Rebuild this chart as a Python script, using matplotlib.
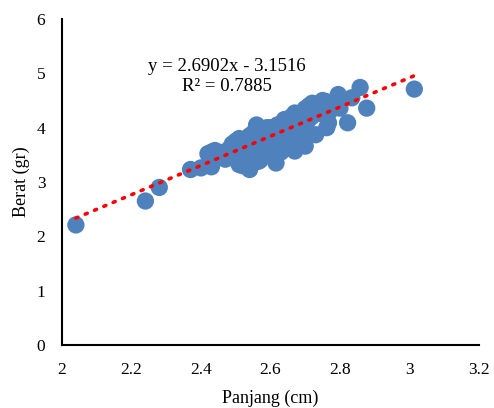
import numpy as np
import matplotlib
matplotlib.use("Agg")
import matplotlib.pyplot as plt

# Panjang (cm) vs Berat (gr)
panjang = [
    2.04, 2.24, 2.28, 2.37, 2.40, 2.43, 2.42, 2.44, 2.47, 2.51, 2.54, 2.565, 2.616,
    2.43, 2.45, 2.46, 2.48, 2.49, 2.50, 2.50, 2.51, 2.52, 2.52, 2.53, 2.53, 2.54,
    2.55, 2.55, 2.56, 2.56, 2.57, 2.57, 2.58, 2.58, 2.59, 2.59, 2.60, 2.60, 2.61,
    2.61, 2.62, 2.62, 2.63, 2.63, 2.64, 2.64, 2.65, 2.65, 2.66, 2.66, 2.67, 2.67,
    2.68, 2.68, 2.69, 2.69, 2.70, 2.70, 2.71, 2.71, 2.72, 2.72, 2.73, 2.73, 2.74,
    2.75, 2.75, 2.76, 2.77, 2.767, 2.762, 2.795, 2.80, 2.822, 2.834, 2.858, 2.877,
    3.014, 2.57, 2.60, 2.64, 2.68, 2.74, 2.78, 2.55, 2.62, 2.66, 2.70, 2.58,
]
berat = [
    2.21, 2.65, 2.90, 3.23, 3.26, 3.28, 3.52, 3.58, 3.42, 3.32, 3.23, 3.38, 3.35,
    3.55, 3.55, 3.50, 3.60, 3.70, 3.75, 3.55, 3.80, 3.65, 3.30, 3.75, 3.50, 3.85,
    3.60, 3.90, 4.05, 3.45, 3.75, 3.40, 3.95, 3.55, 4.00, 3.70, 3.85, 3.60, 3.90,
    3.50, 4.05, 3.70, 3.95, 3.55, 4.15, 3.80, 4.10, 3.65, 4.20, 3.90, 4.27, 3.57,
    4.05, 3.75, 4.20, 3.80, 4.35, 3.66, 4.40, 4.15, 4.45, 4.21, 3.87, 4.35, 4.45,
    4.50, 4.25, 4.48, 4.30, 4.09, 4.00, 4.61, 4.36, 4.09, 4.55, 4.74, 4.36,
    4.71, 3.95, 4.00, 3.95, 3.95, 4.30, 4.45, 3.75, 3.85, 3.75, 4.00, 3.65,
]

# Linear trendline
slope = 2.6902
intercept = -3.1516
r_squared = 0.7885

plt.rcParams["font.family"] = ["Liberation Serif", "DejaVu Serif"]

fig = plt.figure(figsize=(4.94, 4.08), dpi=100)
ax = fig.add_axes([0.1255, 0.1544, 0.844, 0.799])

ax.scatter(panjang, berat, s=155, color="#4f81bd", edgecolors="none", zorder=2)

x_fit = np.array([min(panjang), max(panjang)])
ax.plot(x_fit, slope * x_fit + intercept, color="#ff0000", linestyle=(0, (0.6, 2.2)),
        linewidth=2.6, dash_capstyle="round", zorder=3)

ax.text(2.475, 5.12, f"y = {slope:.4f}x - {abs(intercept):.4f}", ha="center",
        va="center", fontsize=13.5)
ax.text(2.475, 4.75, f"R² = {r_squared:.4f}", ha="center", va="center", fontsize=13.5)

ax.set_xlim(2, 3.2)
ax.set_ylim(0, 6)
ax.set_xticks(np.arange(2, 3.21, 0.2))
ax.set_xticklabels(["2", "2.2", "2.4", "2.6", "2.8", "3", "3.2"])
ax.set_yticks(range(0, 7))
ax.tick_params(length=0, labelsize=12.5, pad=12)
ax.tick_params(axis="y", pad=12)

for side in ["top", "right"]:
    ax.spines[side].set_visible(False)
for side in ["left", "bottom"]:
    ax.spines[side].set_linewidth(1.5)

ax.set_xlabel("Panjang (cm)", fontsize=13, labelpad=9)
ax.set_ylabel("Berat (gr)", fontsize=13, labelpad=5)

fig.savefig("out.png", dpi=100, facecolor="white")
